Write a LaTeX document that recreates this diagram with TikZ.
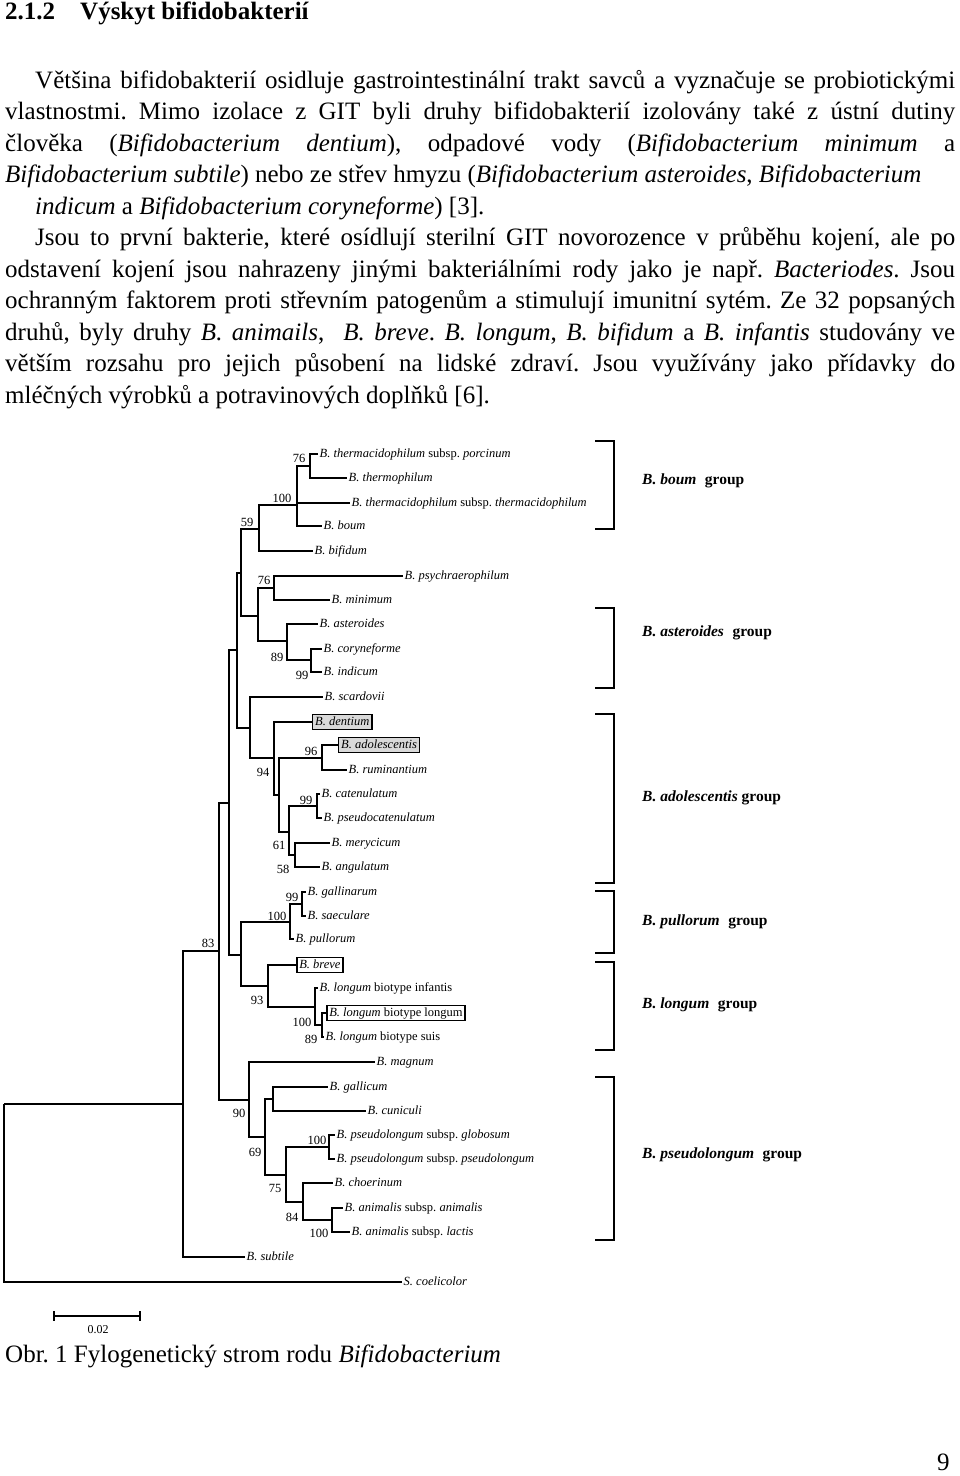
\documentclass[tikz,border=0pt]{standalone}
\usepackage{fontspec}
\setmainfont{Liberation Serif}
\frenchspacing
\begin{document}
\begin{tikzpicture}[x=1pt,y=-1pt,
  br/.style={line width=1.3pt},
  leaf/.style={anchor=west, inner xsep=1.5pt, inner ysep=0pt, text height=9pt, text depth=3pt, font=\fontsize{12.5}{14}\selectfont\itshape},
  hl/.style={leaf, draw, line width=1.4pt, fill=gray!30, inner xsep=2.5pt, inner ysep=1.5pt},
  hlw/.style={leaf, draw, line width=1.6pt, fill=white, inner xsep=2.5pt, inner ysep=1.5pt},
  bs/.style={font=\fontsize{12.5}{14}\selectfont, inner sep=0pt},
  grp/.style={anchor=west, inner sep=0pt, font=\fontsize{15.5}{18}\selectfont\bfseries},
  bkt/.style={line width=2pt},
  body/.style={anchor=base west, inner sep=0pt, font=\fontsize{25}{30}\selectfont},
  hd/.style={anchor=base west, inner sep=0pt, font=\fontsize{25}{30}\selectfont\bfseries}]
\fill[white] (0,0) rectangle (960,1476);
\useasboundingbox (0,0) rectangle (960,1476);

% ---------- text ----------
\node[hd] (h1) at (5,19) {2.1.2};
\node[hd] (h2) at (80,19) {Výskyt bifidobakterií};
\node[body] (t1) at (35,88) {\makebox[920pt][s]{Většina bifidobakterií osidluje gastrointestinální trakt savců a vyznačuje se probiotickými}};
\node[body] (t2) at (5,119.5) {\makebox[950pt][s]{vlastnostmi. Mimo izolace z~GIT byli druhy bifidobakterií izolovány také z~ústní dutiny}};
\node[body] (t3) at (5,151) {\makebox[950pt][s]{člověka (\textit{Bifidobacterium dentium}), odpadové vody (\textit{Bifidobacterium minimum} a}};
\node[body] (t4) at (5,182.5) {\textit{Bifidobacterium subtile}) nebo ze střev hmyzu (\textit{Bifidobacterium asteroides}, \textit{Bifidobacterium}};
\node[body] (t5) at (35,214) {\textit{indicum} a \textit{Bifidobacterium coryneforme}) [3].};
\node[body] (t6) at (35,245.5) {\makebox[920pt][s]{Jsou to první bakterie, které osídlují sterilní GIT novorozence v~průběhu kojení, ale po}};
\node[body] (t7) at (5,277) {\makebox[950pt][s]{odstavení kojení jsou nahrazeny jinými bakteriálními rody jako je např. \textit{Bacteriodes}. Jsou}};
\node[body] (t8) at (5,308.5) {\makebox[950pt][s]{ochranným faktorem proti střevním patogenům a stimulují imunitní sytém. Ze 32 popsaných}};
\node[body] (t9) at (5,340) {\makebox[950pt][s]{druhů, byly druhy \textit{B. animails}, \ \textit{B. breve}. \textit{B. longum}, \textit{B. bifidum} a \textit{B. infantis} studovány ve}};
\node[body] (t10) at (5,371.5) {\makebox[950pt][s]{větším rozsahu pro jejich působení na lidské zdraví. Jsou využívány jako přídavky do}};
\node[body] (t11) at (5,403) {mléčných výrobků a potravinových doplňků [6].};

\node[body] (cap) at (5,1362) {Obr. 1 Fylogenetický strom rodu \textit{Bifidobacterium}};
\node[body] (pg) at (937,1470) {9};

% ---------- internal nodes ----------
\coordinate (n76a) at (310,466);
\coordinate (n100a) at (297,505);
\coordinate (n59) at (259,529);
\coordinate (n76b) at (274,588);
\coordinate (n99a) at (311,660);
\coordinate (n89a) at (287,641);
\coordinate (nc) at (258,616);
\coordinate (nd) at (241,573);
\coordinate (n96) at (322,758);
\coordinate (n99b) at (317,806);
\coordinate (n58) at (295,855);
\coordinate (n61) at (289,832);
\coordinate (nb) at (279,795);
\coordinate (n94) at (274,758);
\coordinate (ne) at (250,728);
\coordinate (nf) at (237,650);
\coordinate (n99c) at (302,904);
\coordinate (n100b) at (290,922);
\coordinate (n89b) at (322,1025);
\coordinate (n100c) at (315,1007);
\coordinate (n93) at (268,986);
\coordinate (ng) at (241,955);
\coordinate (nh) at (229,803);
\coordinate (ni) at (273,1099);
\coordinate (n100d) at (329,1147);
\coordinate (n100e) at (332,1220);
\coordinate (n84) at (303,1202);
\coordinate (n75) at (286,1175);
\coordinate (n69) at (265,1137);
\coordinate (n90) at (249,1100);
\coordinate (n83) at (219,951);
\coordinate (nj) at (183,1104);
\coordinate (root) at (4,1104);

% ---------- leaves ----------
\node[leaf] (l1) at (318,454) {B. thermacidophilum {\upshape subsp.} porcinum};
\node[leaf] (l2) at (347,478) {B. thermophilum};
\node[leaf] (l3) at (350,503) {B. thermacidophilum {\upshape subsp.} thermacidophilum};
\node[leaf] (l4) at (322,526) {B. boum};
\node[leaf] (l5) at (313,551) {B. bifidum};
\node[leaf] (l6) at (403,576) {B. psychraerophilum};
\node[leaf] (l7) at (330,600) {B. minimum};
\node[leaf] (l8) at (318,624) {B. asteroides};
\node[leaf] (l9) at (322,649) {B. coryneforme};
\node[leaf] (l10) at (322,672) {B. indicum};
\node[leaf] (l11) at (323,697) {B. scardovii};
\node[hl] (l12) at (312,722) {B. dentium};
\node[hl] (l13) at (338,745) {B. adolescentis};
\node[leaf] (l14) at (347,770) {B. ruminantium};
\node[leaf] (l15) at (320,794) {B. catenulatum};
\node[leaf] (l16) at (322,818) {B. pseudocatenulatum};
\node[leaf] (l17) at (330,843) {B. merycicum};
\node[leaf] (l18) at (320,867) {B. angulatum};
\node[leaf] (l19) at (306,892) {B. gallinarum};
\node[leaf] (l20) at (306,916) {B. saeculare};
\node[leaf] (l21) at (294,939) {B. pullorum};
\node[hlw] (l22) at (296,965) {B. breve};
\node[leaf] (l23) at (318,988) {B. longum {\upshape biotype infantis}};
\node[hlw] (l24) at (326,1013) {B. longum {\upshape biotype longum}};
\node[leaf] (l25) at (324,1037) {B. longum {\upshape biotype suis}};
\node[leaf] (l26) at (375,1062) {B. magnum};
\node[leaf] (l27) at (328,1087) {B. gallicum};
\node[leaf] (l28) at (366,1111) {B. cuniculi};
\node[leaf] (l29) at (335,1135) {B. pseudolongum {\upshape subsp.} globosum};
\node[leaf] (l30) at (335,1159) {B. pseudolongum {\upshape subsp.} pseudolongum};
\node[leaf] (l31) at (333,1183) {B. choerinum};
\node[leaf] (l32) at (343,1208) {B. animalis {\upshape subsp.} animalis};
\node[leaf] (l33) at (350,1232) {B. animalis {\upshape subsp.} lactis};
\node[leaf] (l34) at (245,1257) {B. subtile};
\node[leaf] (l35) at (402,1282) {S. coelicolor};

% ---------- branches ----------
\draw[br] (n76a) |- (l1.west);
\draw[br] (n76a) |- (l2.west);
\draw[br] (n100a) |- (n76a);
\draw[br] (n100a) |- (l3.west);
\draw[br] (n100a) |- (l4.west);
\draw[br] (n59) |- (n100a);
\draw[br] (n59) |- (l5.west);
\draw[br] (n76b) |- (l6.west);
\draw[br] (n76b) |- (l7.west);
\draw[br] (n99a) |- (l9.west);
\draw[br] (n99a) |- (l10.west);
\draw[br] (n89a) |- (l8.west);
\draw[br] (n89a) |- (n99a);
\draw[br] (nc) |- (n76b);
\draw[br] (nc) |- (n89a);
\draw[br] (nd) |- (n59);
\draw[br] (nd) |- (nc);
\draw[br] (n96) |- (l13.west);
\draw[br] (n96) |- (l14.west);
\draw[br] (n99b) |- (l15.west);
\draw[br] (n99b) |- (l16.west);
\draw[br] (n58) |- (l17.west);
\draw[br] (n58) |- (l18.west);
\draw[br] (n61) |- (n99b);
\draw[br] (n61) |- (n58);
\draw[br] (nb) |- (n96);
\draw[br] (nb) |- (n61);
\draw[br] (n94) |- (l12.west);
\draw[br] (n94) |- (nb);
\draw[br] (ne) |- (l11.west);
\draw[br] (ne) |- (n94);
\draw[br] (nf) |- (nd);
\draw[br] (nf) |- (ne);
\draw[br] (n99c) |- (l19.west);
\draw[br] (n99c) |- (l20.west);
\draw[br] (n100b) |- (n99c);
\draw[br] (n100b) |- (l21.west);
\draw[br] (n89b) |- (l24.west);
\draw[br] (n89b) |- (l25.west);
\draw[br] (n100c) |- (l23.west);
\draw[br] (n100c) |- (n89b);
\draw[br] (n93) |- (l22.west);
\draw[br] (n93) |- (n100c);
\draw[br] (ng) |- (n100b);
\draw[br] (ng) |- (n93);
\draw[br] (nh) |- (nf);
\draw[br] (nh) |- (ng);
\draw[br] (ni) |- (l27.west);
\draw[br] (ni) |- (l28.west);
\draw[br] (n100d) |- (l29.west);
\draw[br] (n100d) |- (l30.west);
\draw[br] (n100e) |- (l32.west);
\draw[br] (n100e) |- (l33.west);
\draw[br] (n84) |- (l31.west);
\draw[br] (n84) |- (n100e);
\draw[br] (n75) |- (n100d);
\draw[br] (n75) |- (n84);
\draw[br] (n69) |- (ni);
\draw[br] (n69) |- (n75);
\draw[br] (n90) |- (l26.west);
\draw[br] (n90) |- (n69);
\draw[br] (n83) |- (nh);
\draw[br] (n83) |- (n90);
\draw[br] (nj) |- (n83);
\draw[br] (nj) |- (l34.west);
\draw[br] (root) |- (nj);
\draw[br] (root) |- (l35.west);

% ---------- bootstrap values ----------
\node[bs] (b1) at (299,458) {76};
\node[bs] (b2) at (282,498) {100};
\node[bs] (b3) at (247,522) {59};
\node[bs] (b4) at (264,580) {76};
\node[bs] (b5) at (277,657) {89};
\node[bs] (b6) at (302,675) {99};
\node[bs] (b7) at (311,751) {96};
\node[bs] (b8) at (263,772) {94};
\node[bs] (b9) at (306,800) {99};
\node[bs] (b10) at (279,845) {61};
\node[bs] (b11) at (283,869) {58};
\node[bs] (b12) at (292,897) {99};
\node[bs] (b13) at (277,916) {100};
\node[bs] (b14) at (208,943) {83};
\node[bs] (b15) at (257,1000) {93};
\node[bs] (b16) at (302,1022) {100};
\node[bs] (b17) at (311,1039) {89};
\node[bs] (b18) at (239,1113) {90};
\node[bs] (b19) at (255,1152) {69};
\node[bs] (b20) at (317,1140) {100};
\node[bs] (b21) at (275,1188) {75};
\node[bs] (b22) at (292,1217) {84};
\node[bs] (b23) at (319,1233) {100};

% ---------- group brackets ----------
\draw[bkt] (595,441) -| (614,529) -- (595,529);
\draw[bkt] (595,608) -| (614,688) -- (595,688);
\draw[bkt] (595,714) -| (614,883) -- (595,883);
\draw[bkt] (595,891) -| (614,953) -- (595,953);
\draw[bkt] (595,962) -| (614,1050) -- (595,1050);
\draw[bkt] (595,1077) -| (614,1240) -- (595,1240);
\node[grp] (g1) at (642,481) {\textit{B. boum}\hspace{0.3em} group};
\node[grp] (g2) at (642,633) {\textit{B. asteroides}\hspace{0.3em} group};
\node[grp] (g3) at (642,798) {\textit{B. adolescentis} group};
\node[grp] (g4) at (642,922) {\textit{B. pullorum}\hspace{0.3em} group};
\node[grp] (g5) at (642,1005) {\textit{B. longum}\hspace{0.3em} group};
\node[grp] (g6) at (642,1155) {\textit{B. pseudolongum}\hspace{0.3em} group};

% ---------- scale bar ----------
\draw[line width=1.6pt] (54,1311) -- (54,1321) (54,1316) -- (140,1316) (140,1311) -- (140,1321);
\node[font=\fontsize{12}{14}\selectfont, inner sep=0pt] (sc) at (98,1330) {0.02};
\end{tikzpicture}
\end{document}
